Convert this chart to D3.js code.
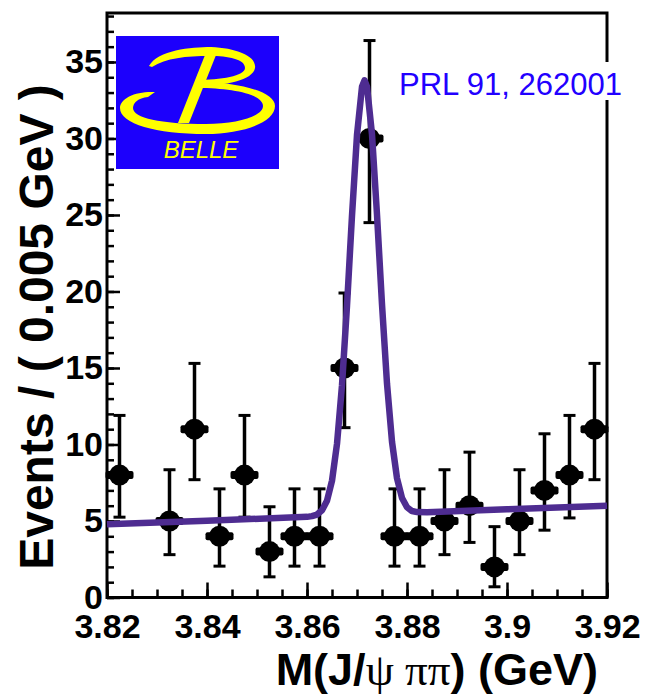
<!DOCTYPE html>
<html>
<head>
<meta charset="utf-8">
<script src="https://cdn.jsdelivr.net/npm/d3@7"></script>
<style>
  body { margin: 0; background: #fff; }
  svg { display: block; }
</style>
</head>
<body>
<svg id="chart" width="647" height="696"></svg>
<script>
// bin centres (GeV), events and 68% interval bounds
const mass = [3.8225, 3.8325, 3.8375, 3.8425, 3.8475, 3.8525, 3.8575, 3.8625, 3.8675, 3.8725,
              3.8775, 3.8825, 3.8875, 3.8925, 3.8975, 3.9025, 3.9075, 3.9125, 3.9175]
const counts = [8, 5, 11, 4, 8, 3, 4, 4, 15, 30, 4, 4, 5, 6, 2, 5, 7, 8, 11]
const errLow = [5.25, 2.8, 7.7, 2.05, 5.25, 1.35, 2.05, 2.05, 11.1, 24.5,
                2.05, 2.05, 2.8, 3.6, 0.7, 2.8, 4.4, 5.2, 7.7]
const errHigh = [11.9, 8.35, 15.3, 7.1, 11.9, 5.93, 7.1, 7.1, 19.9, 36.4,
                 7.1, 7.1, 8.35, 9.5, 4.63, 8.35, 10.7, 11.9, 15.3]
const binWidth = 0.005

// fit curve
const fitMass = [3.820, 3.840, 3.860, 3.861, 3.862, 3.863, 3.864, 3.865, 3.866, 3.867, 3.868, 3.869,
                 3.870, 3.871, 3.8715, 3.872, 3.873, 3.874, 3.875, 3.876, 3.877, 3.878, 3.879,
                 3.880, 3.881, 3.882, 3.884, 3.900, 3.920]
const fitVal = [4.78, 5.02, 5.27, 5.32, 5.42, 5.70, 6.32, 7.63, 10.04, 13.87, 19.07, 24.96,
                30.23, 33.38, 33.8, 33.39, 30.27, 25.02, 19.16, 13.98, 10.18, 7.79, 6.50,
                5.90, 5.65, 5.58, 5.57, 5.76, 6.00]

const xMajor = [3.82, 3.84, 3.86, 3.88, 3.9, 3.92]
const yMajor = [0, 5, 10, 15, 20, 25, 30, 35]

const svg = d3.select("#chart")
const pLeft = 107, pRight = 607, pTop = 13, pBottom = 597.5

const x = d3.scaleLinear().domain([3.82, 3.92]).range([pLeft, pRight])
const y = d3.scaleLinear().domain([0, 38.2]).range([pBottom, pTop])

const sans = "'Liberation Sans', Arial, Helvetica, sans-serif"

// frame
svg.append("rect")
    .attr("x", pLeft).attr("y", pTop)
    .attr("width", pRight - pLeft).attr("height", pBottom - pTop)
    .attr("fill", "none").attr("stroke", "#000").attr("stroke-width", 3)

// x axis, ticks inward
const xMinor = d3.range(0, 21).map(i => 3.82 + i * binWidth)
svg.append("g")
    .attr("transform", `translate(0,${pBottom})`)
    .call(d3.axisBottom(x).tickValues(xMinor).tickSize(-8).tickSizeOuter(0).tickFormat(""))
    .call(g => g.select(".domain").remove())
    .call(g => g.selectAll("line").attr("stroke-width", 2.5))
svg.append("g")
    .attr("transform", `translate(0,${pBottom})`)
    .call(d3.axisBottom(x).tickValues(xMajor).tickSize(-15).tickSizeOuter(0).tickPadding(16)
        .tickFormat(d3.format("")))
    .call(g => g.select(".domain").remove())
    .call(g => g.selectAll("line").attr("stroke-width", 2.5))
    .call(g => g.selectAll("text")
        .attr("font-family", sans).attr("font-weight", "bold")
        .attr("font-size", 34).attr("fill", "#000"))

// y axis, ticks inward
svg.append("g")
    .attr("transform", `translate(${pLeft},0)`)
    .call(d3.axisLeft(y).tickValues(d3.range(0, 39)).tickSize(-7).tickSizeOuter(0).tickFormat(""))
    .call(g => g.select(".domain").remove())
    .call(g => g.selectAll("line").attr("stroke-width", 2.5))
svg.append("g")
    .attr("transform", `translate(${pLeft},0)`)
    .call(d3.axisLeft(y).tickValues(yMajor).tickSize(-13).tickSizeOuter(0).tickPadding(4))
    .call(g => g.select(".domain").remove())
    .call(g => g.selectAll("line").attr("stroke-width", 2.5))
    .call(g => g.selectAll("text")
        .attr("font-family", sans).attr("font-weight", "bold")
        .attr("font-size", 34).attr("fill", "#000"))

// axis titles
const xTitle = svg.append("text")
    .attr("x", 598).attr("y", 685)
    .attr("text-anchor", "end")
    .attr("font-family", sans).attr("font-weight", "bold").attr("font-size", 45)
xTitle.append("tspan").text("M(J/")
xTitle.append("tspan").attr("font-family", "'Liberation Serif', 'DejaVu Serif', serif")
    .attr("font-weight", "normal").text("ψ ππ")
xTitle.append("tspan").text(") (GeV)")

svg.append("text")
    .attr("transform", "translate(53,327) rotate(-90)")
    .attr("text-anchor", "middle")
    .attr("font-family", sans).attr("font-weight", "bold").attr("font-size", 48)
    .text("Events / ( 0.005 GeV )")

// data points
const pts = svg.append("g")
mass.forEach((m, i) => {
    const cx = x(m), cy = y(counts[i])
    const g = pts.append("g")
    g.append("line")
        .attr("x1", cx).attr("x2", cx)
        .attr("y1", y(errLow[i])).attr("y2", y(errHigh[i]))
        .attr("stroke", "#000").attr("stroke-width", 3.5)
    ;[errLow[i], errHigh[i]].forEach(v => {
        g.append("line")
            .attr("x1", cx - 6).attr("x2", cx + 6)
            .attr("y1", y(v)).attr("y2", y(v))
            .attr("stroke", "#000").attr("stroke-width", 3)
    })
    const hw = x(m + binWidth / 2) - cx
    g.append("rect")
        .attr("x", cx - hw - 1.5).attr("y", cy - 4)
        .attr("width", 2 * hw + 3).attr("height", 8)
        .attr("rx", 2).attr("fill", "#000")
    g.append("circle")
        .attr("cx", cx).attr("cy", cy).attr("r", 10.5)
        .attr("fill", "#000")
})

// fit curve
const line = d3.line()
    .x((d, i) => x(fitMass[i]))
    .y(d => y(d))
svg.append("path")
    .datum(fitVal)
    .attr("d", line)
    .attr("fill", "none")
    .attr("stroke", "#4e2c91")
    .attr("stroke-width", 6.5)
    .attr("stroke-linejoin", "round")

// Belle logo
const logo = svg.append("g").attr("transform", "translate(116,36)")
logo.append("rect").attr("width", 163).attr("height", 133).attr("fill", "#1c00fc")
const yel = "#ffff00"
logo.append("path").attr("fill", yel).attr("d",
    "M33,30 C42,14 75,11 95,11 C120,12 141,20 139,32 C137,44 110,50 80,50 L80,44 " +
    "C105,44 129,40 129,32 C129,23 112,20 94,20 C70,20 50,22 36,31 Z")
logo.append("path").attr("fill", yel).attr("d",
    "M82,46 C120,46 159,55 159,70 C159,87 125,98 90,98 C40,98 4,88 4,72 " +
    "C4,62 20,55 39,56 L32,61 C22,62 17,67 17,72 C17,82 45,88 90,88 " +
    "C122,88 147,80 147,70 C147,58 115,52 82,52 Z")
logo.append("path").attr("fill", yel).attr("d", "M91,14 L102,14 L73,87 L62,87 Z")
logo.append("text")
    .attr("x", 85).attr("y", 122)
    .attr("text-anchor", "middle")
    .attr("font-family", sans).attr("font-style", "italic").attr("font-size", 24)
    .attr("fill", yel)
    .text("BELLE")

// reference label, white box over the frame
svg.append("rect")
    .attr("x", 397).attr("y", 62).attr("width", 230).attr("height", 38)
    .attr("fill", "#fff")
svg.append("text")
    .attr("x", 399).attr("y", 95)
    .attr("font-family", sans).attr("font-size", 31)
    .attr("fill", "#2200ff")
    .text("PRL 91, 262001")
</script>
</body>
</html>
